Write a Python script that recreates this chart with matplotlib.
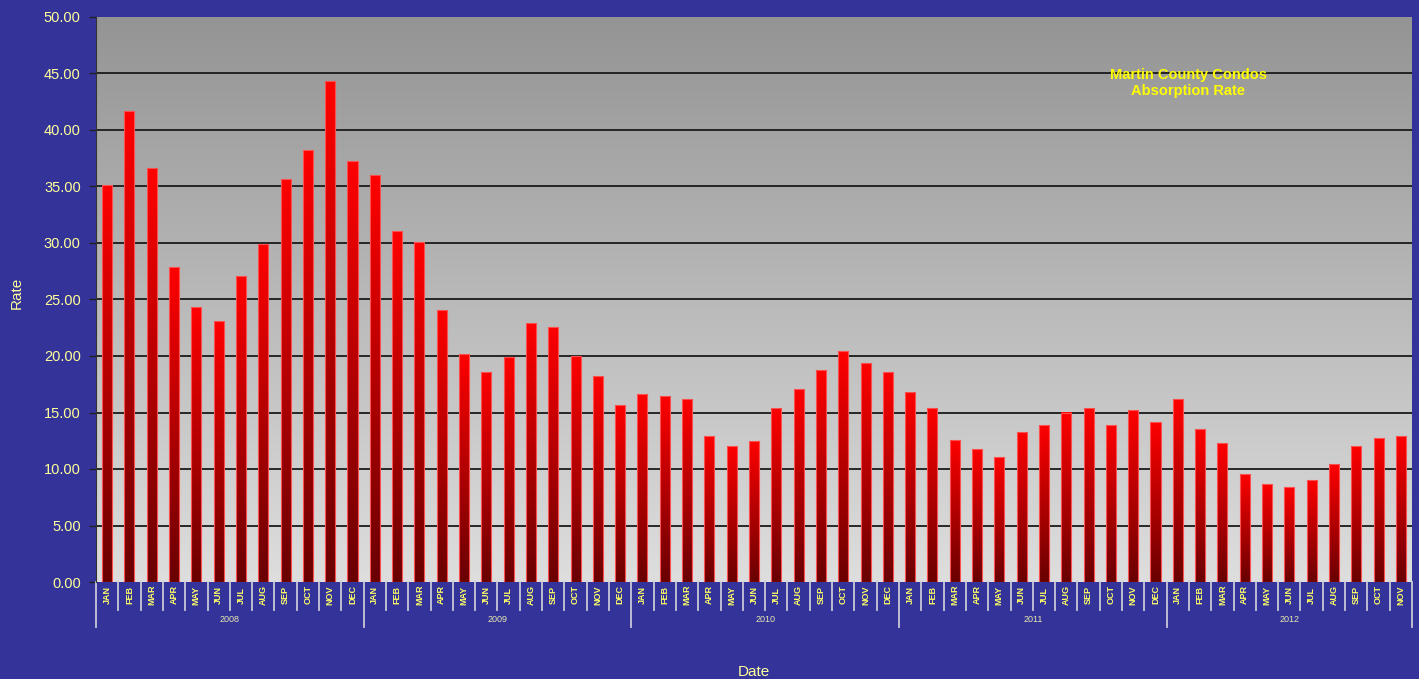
# Martin County Condos absorption rate, monthly bars 2008-2012
import numpy as np
import matplotlib.pyplot as plt

plt.rcParams['font.family'] = ['Liberation Sans', 'DejaVu Sans']

# Data
years = ['2008', '2009', '2010', '2011', '2012']
months = ['JAN', 'FEB', 'MAR', 'APR', 'MAY', 'JUN',
          'JUL', 'AUG', 'SEP', 'OCT', 'NOV', 'DEC']
rate_2008 = [35.1, 41.7, 36.6, 27.9, 24.3, 23.1, 27.1, 29.9, 35.7, 38.2, 44.3, 37.3]
rate_2009 = [36.0, 31.1, 30.1, 24.1, 20.2, 18.6, 19.9, 22.9, 22.6, 20.0, 18.2, 15.7]
rate_2010 = [16.6, 16.5, 16.2, 12.9, 12.0, 12.5, 15.4, 17.1, 18.8, 20.4, 19.4, 18.6]
rate_2011 = [16.8, 15.4, 12.6, 11.8, 11.1, 13.3, 13.9, 15.0, 15.4, 13.9, 15.2, 14.2]
rate_2012 = [16.2, 13.5, 12.3, 9.6, 8.7, 8.4, 9.0, 10.4, 12.0, 12.7, 12.9]

rates = rate_2008 + rate_2009 + rate_2010 + rate_2011 + rate_2012
labels = (months * 5)[:len(rates)]
n = len(rates)
x = np.arange(n)

bg = '#333399'
fig = plt.figure(figsize=(14.19, 6.79), dpi=100, facecolor=bg)
ax = fig.add_axes([96/1419, 1 - 582/679, 1316/1419, 565/679])
ax.set_xlim(-0.5, n - 0.5)

# gray gradient plot area (dark at top, light at bottom)
grad = np.linspace(0, 1, 256).reshape(-1, 1)
grey = np.zeros((256, 1, 3))
grey[..., 0] = grey[..., 1] = grey[..., 2] = (148 + (222 - 148) * grad) / 255
ax.imshow(grey, extent=[-0.5, n - 0.5, 0, 50], aspect='auto', zorder=0,
          interpolation='bilinear')
ax.set_ylim(0, 50)

# gridlines
for v in range(5, 50, 5):
    ax.axhline(v, color='#1a1a1a', lw=1.3, zorder=1)

# bars with vertical red gradient
bars = ax.bar(x, rates, width=0.45, color='none', edgecolor='#ff5050',
              lw=0.8, zorder=3)
red = np.zeros((256, 1, 3))
t = np.linspace(0, 1, 256).reshape(-1, 1)
red[..., 0] = (255 - 150 * t) / 255
for b in bars:
    h = b.get_height()
    im = ax.imshow(red, extent=[b.get_x(), b.get_x() + b.get_width(), 0, h],
                   aspect='auto', zorder=2, interpolation='bilinear')
    im.set_clip_path(b)

# y axis
ax.set_yticks(np.arange(0, 51, 5))
ax.set_yticklabels(['%.2f' % v for v in np.arange(0, 51, 5)])
ax.tick_params(axis='y', colors='#222222', labelcolor='#ffff99', labelsize=10.5,
               length=5, width=1, pad=6)
ax.set_xticks([])
for s in ['top', 'right', 'bottom']:
    ax.spines[s].set_visible(False)
ax.spines['left'].set_color('#333333')

# category axis: months, years, separators
xt = ax.get_xaxis_transform()
for i in range(n + 1):
    long_sep = (i % 12 == 0) or i == n
    y_end = -45/565 if long_sep else -28/565
    ax.plot([i - 0.5, i - 0.5], [0, y_end], transform=xt, color='#c8c8d8',
            lw=1.3, clip_on=False)
for i, lab in enumerate(labels):
    ax.text(i, -13/565, lab, transform=xt, rotation=90, ha='center', va='center',
            color='#ffff66', fontsize=6.5, fontweight='bold')
for k, yr in enumerate(years):
    start = k * 12
    end = min(start + 12, n)
    ax.text((start + end - 1) / 2, -37/565, yr, transform=xt, ha='center',
            va='center', color='#e8e8b0', fontsize=6.5)

ax.text(0.5, -90/565, 'Date', transform=ax.transAxes, ha='center', va='center',
        color='#ffff99', fontsize=11)
fig.text(17/1419, 1 - 293/679, 'Rate', rotation=90, ha='center', va='center',
         color='#ffff99', fontsize=11)

fig.text(1188/1419, 1 - 83/679, 'Martin County Condos\nAbsorption Rate',
         ha='center', va='center', color='#ffff00', fontsize=10.5,
         fontweight='bold', linespacing=1.1)

fig.savefig('out.png', dpi=100, facecolor=bg)
